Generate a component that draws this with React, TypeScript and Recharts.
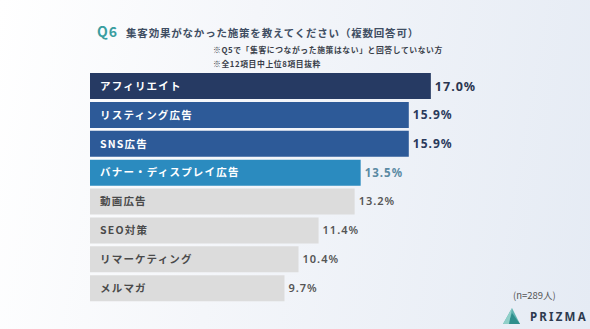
import React from "react";
import { BarChart, Bar, XAxis, YAxis, Cell, LabelList } from "recharts";

const categories = [
  "アフィリエイト",
  "リスティング広告",
  "SNS広告",
  "バナー・ディスプレイ広告",
  "動画広告",
  "SEO対策",
  "リマーケティング",
  "メルマガ",
];
const values = [17.0, 15.9, 15.9, 13.5, 13.2, 11.4, 10.4, 9.7];
const barColors = ["#263a63", "#2d5a98", "#2d5a98", "#2b8bbf", "#dcdcdc", "#dcdcdc", "#dcdcdc", "#dcdcdc"];
const nameColors = ["#ffffff", "#ffffff", "#ffffff", "#ffffff", "#4a4a4a", "#4a4a4a", "#4a4a4a", "#4a4a4a"];
const valueColors = ["#2a3550", "#2a3a5c", "#2a3a5c", "#5a8aa3", "#555555", "#555555", "#555555", "#555555"];
const valueSizes = [12.5, 12, 12, 11.5, 11, 11, 11, 11];

const data = categories.map((name, i) => ({ name, value: values[i] }));

const FONT = "'Noto Sans CJK JP', 'Noto Sans', sans-serif";

const NameLabel = (props: any) => {
  const { x, y, height, index, value } = props;
  return (
    <text
      x={x + 10}
      y={y + height / 2}
      dy="0.36em"
      fill={nameColors[index]}
      fontSize={10.5}
      fontWeight={700}
      letterSpacing={1.2}
      fontFamily={FONT}
    >
      {value}
    </text>
  );
};

const ValueLabel = (props: any) => {
  const { x, y, width, height, index, value } = props;
  return (
    <text
      x={x + width + 4}
      y={y + height / 2}
      dy="0.36em"
      fill={valueColors[index]}
      fontSize={valueSizes[index]}
      fontWeight={index < 4 ? 700 : 600}
      letterSpacing={1}
      fontFamily="'Noto Sans', sans-serif"
    >
      {Number(value).toFixed(1) + "%"}
    </text>
  );
};

export default function App() {
  return (
    <div
      style={{
        position: "absolute",
        left: 0,
        top: 0,
        width: 590,
        height: 329,
        overflow: "hidden",
        background: "linear-gradient(100deg, #ffffff 0%, #f4f6fa 40%, #e5ebf4 100%)",
        fontFamily: FONT,
      }}
    >
      <div style={{ position: "absolute", left: 97, top: 20, whiteSpace: "nowrap", lineHeight: "20px" }}>
        <span style={{ color: "#3a9ea0", fontSize: 14, fontWeight: 700, letterSpacing: 1 }}>Q6</span>
        <span style={{ color: "#3f4e63", fontSize: 10.5, fontWeight: 700, letterSpacing: 0.8, marginLeft: 8 }}>
          集客効果がなかった施策を教えてください（複数回答可）
        </span>
      </div>
      <div
        style={{
          position: "absolute",
          left: 213,
          top: 43,
          fontSize: 7.8,
          fontWeight: 700,
          color: "#3a3f4a",
          letterSpacing: 0.6,
          lineHeight: "13.5px",
          whiteSpace: "nowrap",
        }}
      >
        <div>※Q5で「集客につながった施策はない」と回答していない方</div>
        <div>※全12項目中上位8項目抜粋</div>
      </div>
      <div style={{ position: "absolute", left: 0, top: 0 }}>
        <BarChart
          width={590}
          height={329}
          data={data}
          layout="vertical"
          margin={{ top: 72, right: 99, bottom: 26, left: 90 }}
          barSize={26}
        >
          <XAxis type="number" domain={[0, 20]} hide />
          <YAxis type="category" dataKey="name" hide width={0} />
          <Bar dataKey="value" isAnimationActive={false}>
            {data.map((d, i) => (
              <Cell key={d.name} fill={barColors[i]} />
            ))}
            <LabelList dataKey="name" content={NameLabel} />
            <LabelList dataKey="value" content={ValueLabel} />
          </Bar>
        </BarChart>
      </div>
      <div
        style={{
          position: "absolute",
          left: 513,
          top: 288,
          fontSize: 9.5,
          color: "#555",
          whiteSpace: "nowrap",
          lineHeight: "14px",
        }}
      >
        (n=289人)
      </div>
      <svg style={{ position: "absolute", left: 500, top: 305 }} width={90} height={22}>
        <polygon points="3,19 12,3 20,19" fill="#5fb3b0" />
        <polygon points="8,19 12,8 20,19" fill="#2e8f8c" />
        <polygon points="3,19 12,3 9,19" fill="#8fcfc8" />
        <text
          x={30}
          y={15.5}
          fontSize={11.5}
          fontWeight={700}
          letterSpacing={2.2}
          fill="#2d3a4f"
          fontFamily="'Noto Sans', sans-serif"
        >
          PRIZMA
        </text>
      </svg>
    </div>
  );
}
